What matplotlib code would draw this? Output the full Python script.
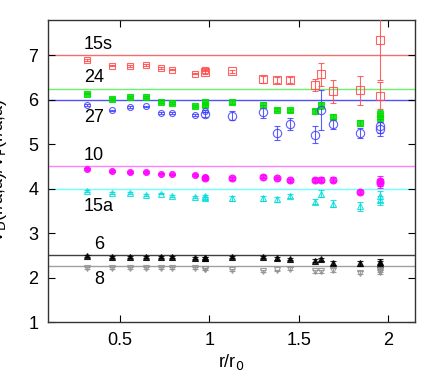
import numpy as np
import matplotlib
matplotlib.use("Agg")
import matplotlib.pyplot as plt

plt.rcParams['font.family'] = ['Liberation Sans', 'DejaVu Sans']

# small-r data set (small markers)
x_a = [0.32, 0.46, 0.56, 0.65, 0.73, 0.79, 0.92, 0.975]
# large-r data set (big markers), last x appears twice
x_b = [0.975, 1.126, 1.30, 1.38, 1.452, 1.593, 1.626, 1.69, 1.841, 1.953, 1.953]

rep_names = ["15s", "24", "27", "10", "15a", "6", "8"]
casimir = [7.0, 6.25, 6.0, 4.5, 4.0, 2.5, 2.25]

ya_15s = [6.90, 6.77, 6.76, 6.78, 6.71, 6.68, 6.59, 6.67]
yb_15s = [6.62, 6.64, 6.46, 6.44, 6.45, 6.33, 6.57, 6.19, 6.21, 7.35, 6.09]
eb_15s = [0.04, 0.04, 0.08, 0.07, 0.07, 0.14, 0.26, 0.26, 0.32, 0.9, 0.3]

ya_24 = [6.14, 6.01, 6.07, 6.07, 5.95, 5.92, 5.86, 5.94]
yb_24 = [5.88, 5.95, 5.88, 5.78, 5.76, 5.74, 5.88, 5.62, 5.48, 5.67, 5.60]
eb_24 = [0.05, 0.04, 0.06, 0.04, 0.04, 0.05, 0.08, 0.06, 0.07, 0.1, 0.1]

ya_27 = [5.89, 5.76, 5.83, 5.85, 5.71, 5.71, 5.65, 5.75]
yb_27 = [5.67, 5.64, 5.73, 5.25, 5.46, 5.21, 5.78, 5.45, 5.26, 5.41, 5.34]
eb_27 = [0.05, 0.1, 0.15, 0.15, 0.13, 0.19, 0.45, 0.11, 0.11, 0.15, 0.15]

ya_10 = [4.44, 4.39, 4.37, 4.38, 4.34, 4.32, 4.30, 4.27]
yb_10 = [4.23, 4.23, 4.27, 4.24, 4.19, 4.20, 4.20, 4.20, 3.92, 4.17, 4.12]
eb_10 = [0.04, 0.03, 0.03, 0.03, 0.03, 0.04, 0.06, 0.06, 0.05, 0.11, 0.1]

ya_15a = [3.95, 3.91, 3.91, 3.85, 3.89, 3.84, 3.82, 3.83]
yb_15a = [3.78, 3.78, 3.78, 3.76, 3.84, 3.71, 3.89, 3.66, 3.60, 3.83, 3.74]
eb_15a = [0.04, 0.05, 0.05, 0.05, 0.04, 0.06, 0.08, 0.08, 0.1, 0.12, 0.1]

ya_6 = [2.49, 2.47, 2.47, 2.47, 2.46, 2.46, 2.44, 2.44]
yb_6 = [2.44, 2.46, 2.46, 2.43, 2.42, 2.38, 2.41, 2.33, 2.32, 2.35, 2.30]
eb_6 = [0.02, 0.02, 0.02, 0.03, 0.03, 0.03, 0.04, 0.05, 0.05, 0.07, 0.07]

ya_8 = [2.22, 2.22, 2.22, 2.22, 2.22, 2.22, 2.21, 2.20]
yb_8 = [2.19, 2.17, 2.15, 2.16, 2.20, 2.14, 2.14, 2.17, 2.11, 2.17, 2.12]
eb_8 = [0.02, 0.02, 0.02, 0.02, 0.03, 0.03, 0.03, 0.04, 0.04, 0.05, 0.05]

label_pos = [(0.30, 7.25), (0.30, 6.5), (0.30, 5.6), (0.30, 4.75), (0.30, 3.6), (0.36, 2.75), (0.36, 1.95)]

series = [
    (ya_15s, yb_15s, eb_15s, 's', '#ff4848', 'none', '#f07070', 5.5),
    (ya_24, yb_24, eb_24, 's', '#00dd00', '#00dd00', '#70f070', 5.0),
    (ya_27, yb_27, eb_27, 'o', '#4040ff', 'none', '#5050ff', 6.0),
    (ya_10, yb_10, eb_10, 'o', '#ff00ff', '#ff00ff', '#ff80ff', 5.0),
    (ya_15a, yb_15a, eb_15a, '^', '#00dddd', 'none', '#70ffff', 5.0),
    (ya_6, yb_6, eb_6, '^', '#000000', '#000000', '#404040', 4.5),
    (ya_8, yb_8, eb_8, 'v', '#909090', 'none', '#a0a0a0', 4.5),
]

fig = plt.figure(figsize=(4.36, 3.74), dpi=100)
ax = fig.add_axes([0.110, 0.139, 0.842, 0.808])

for i, (ya, yb, eb, mk, col, fc, lcol, msb) in enumerate(series):
    ax.axhline(casimir[i], color=lcol, lw=1.0, zorder=1)
    ax.errorbar(x_a, ya, yerr=0.02, fmt=mk, ms=4.3, mfc=fc, mec=col, color=col,
                ecolor=col, elinewidth=0.8, capsize=2, mew=0.8, alpha=0.85, zorder=3)
    ax.errorbar(x_b, yb, yerr=eb, fmt=mk, ms=msb, mfc=fc, mec=col, color=col,
                ecolor=col, elinewidth=0.8, capsize=2.5, mew=0.8, alpha=0.85, zorder=3)
    ax.text(label_pos[i][0], label_pos[i][1], rep_names[i], fontsize=13,
            ha='left', va='center')

ax.set_xlim(0.1, 2.15)
ax.set_ylim(1, 7.8)
ax.set_xticks([0.5, 1, 1.5, 2])
ax.set_xticklabels(["0.5", "1", "1.5", "2"])
ax.set_yticks([1, 2, 3, 4, 5, 6, 7])
ax.tick_params(direction='in', top=True, right=True, length=5, labelsize=13, pad=7)
ax.set_xlabel(r"r/r$_\mathrm{0}$", fontsize=13, labelpad=2)
ax.set_ylabel(r"V$_\mathrm{D}$(r/a,a)/V$_\mathrm{F}$(r/a,a)", fontsize=13)
ax.yaxis.set_label_coords(-0.105, 0.5)
for s in ax.spines.values():
    s.set_color('#333333')
    s.set_linewidth(1.0)

fig.savefig("out.png", dpi=100)
